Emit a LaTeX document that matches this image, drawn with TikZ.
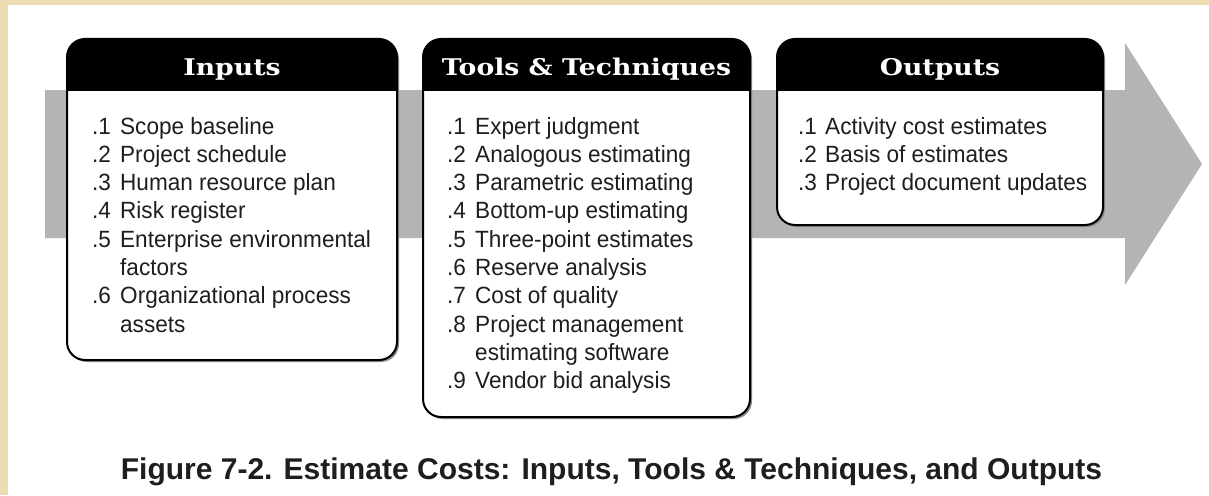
\documentclass[tikz,border=0pt]{standalone}
\usepackage{fontspec}
\newfontfamily\bodyfont[FakeStretch=0.96]{Liberation Sans}
\newfontfamily\headfont[FakeStretch=1.16]{DejaVu Serif}
\newfontfamily\capfont[FakeStretch=1.0]{Liberation Sans}
\definecolor{tan}{RGB}{236,221,178}
\definecolor{arrowgray}{RGB}{180,180,180}
\definecolor{ink}{RGB}{30,30,30}
\tikzset{
  itemtxt/.style={anchor=base west, inner sep=0pt, text=ink, font=\bodyfont\fontsize{23.5}{28}\selectfont},
  headtxt/.style={anchor=base, inner sep=0pt, text=white, font=\headfont\bfseries\fontsize{23}{27}\selectfont},
  boxborder/.style={draw=black, line width=2pt, rounded corners=18pt},
}
\newcommand\entry[6]{%
  \node[itemtxt] (#1n) at (#2,#4) {#5};
  \node[itemtxt] (#1t) at (#3,#4) {#6};}
\newcommand\ibox[6]{% name, x1, y1, x2, y2, title
  \fill[black!45, rounded corners=18pt] (#2+2,#3+2) rectangle (#4+2,#5+2);
  \fill[white, rounded corners=18pt] (#2,#3) rectangle (#4,#5);
  \begin{scope}
    \clip (#2-3,#3-3) rectangle (#4+3,90);
    \fill[black, rounded corners=18pt] (#2,#3) rectangle (#4,#5);
  \end{scope}
  \draw[boxborder] (#2,#3) rectangle (#4,#5);
  \node[headtxt] (#1) at ({(#2+#4)/2},75) {#6};}
\begin{document}
\begin{tikzpicture}[x=1pt,y=-1pt]
\useasboundingbox (0,0) rectangle (1209,495);
\fill[tan] (0,0) rectangle (1209,495);
\fill[white] (8,5) rectangle (1209,495);
% big arrow
\fill[arrowgray] (45,90) -- (1125,90) -- (1125,43) -- (1202,164) -- (1125,285) -- (1125,238) -- (45,238) -- cycle;
% boxes
\ibox{inputs}{67}{39}{397}{360}{Inputs}
\ibox{tools}{423}{39}{750}{417}{Tools \& Techniques}
\ibox{outputs}{777}{39}{1103}{225}{Outputs}
% inputs
\def\L{28.3}
\entry{i1}{92}{120}{134}{.1}{Scope baseline}
\entry{i2}{92}{120}{134+\L}{.2}{Project schedule}
\entry{i3}{92}{120}{134+2*\L}{.3}{Human resource plan}
\entry{i4}{92}{120}{134+3*\L}{.4}{Risk register}
\entry{i5}{92}{120}{134+4*\L}{.5}{Enterprise environmental}
\node[itemtxt] (i5b) at (120,134+5*\L) {factors};
\entry{i6}{92}{120}{134+6*\L}{.6}{Organizational process}
\node[itemtxt] (i6b) at (120,134+7*\L) {assets};
% tools
\entry{t1}{447}{475}{134}{.1}{Expert judgment}
\entry{t2}{447}{475}{134+\L}{.2}{Analogous estimating}
\entry{t3}{447}{475}{134+2*\L}{.3}{Parametric estimating}
\entry{t4}{447}{475}{134+3*\L}{.4}{Bottom-up estimating}
\entry{t5}{447}{475}{134+4*\L}{.5}{Three-point estimates}
\entry{t6}{447}{475}{134+5*\L}{.6}{Reserve analysis}
\entry{t7}{447}{475}{134+6*\L}{.7}{Cost of quality}
\entry{t8}{447}{475}{134+7*\L}{.8}{Project management}
\node[itemtxt] (t8b) at (475,134+8*\L) {estimating software};
\entry{t9}{447}{475}{134+9*\L}{.9}{Vendor bid analysis}
% outputs
\entry{o1}{798}{825}{134}{.1}{Activity cost estimates}
\entry{o2}{798}{825}{134+\L}{.2}{Basis of estimates}
\entry{o3}{798}{825}{134+2*\L}{.3}{Project document updates}
% caption
\node[anchor=base, inner sep=0pt, text=ink, font=\capfont\bfseries\fontsize{30}{34}\selectfont] (caption) at (611.5,479) {Figure 7-2. Estimate Costs: Inputs, Tools \& Techniques, and Outputs};
\end{tikzpicture}
\end{document}
